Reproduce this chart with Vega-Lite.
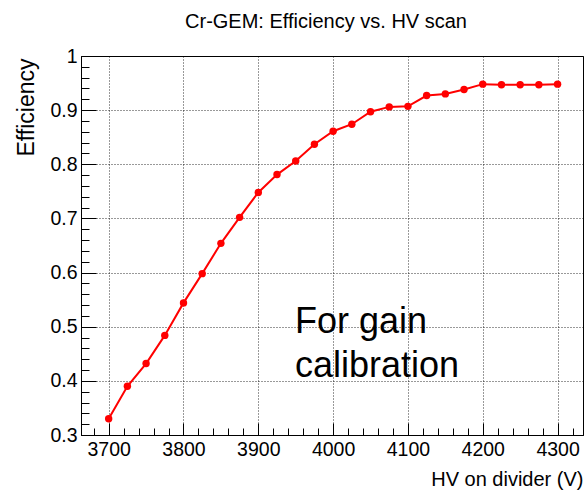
{
  "$schema": "https://vega.github.io/schema/vega-lite/v6.json",
  "width": 502,
  "height": 379,
  "autosize": "none",
  "padding": {"left": 81, "top": 56, "right": 3, "bottom": 57},
  "background": "white",
  "config": {
    "font": "Liberation Sans",
    "view": {"stroke": "black", "strokeWidth": 1}
  },
  "title": {
    "text": "Cr-GEM: Efficiency vs. HV scan",
    "fontSize": 20,
    "fontWeight": "normal",
    "font": "Liberation Sans",
    "color": "black",
    "anchor": "middle",
    "dx": -6,
    "dy": 29,
    "baseline": "bottom",
    "offset": 23
  },
  "datasets": {
    "scan": [
      {"hv": 3700, "eff": 0.330},
      {"hv": 3725, "eff": 0.390},
      {"hv": 3750, "eff": 0.432},
      {"hv": 3775, "eff": 0.484},
      {"hv": 3800, "eff": 0.544},
      {"hv": 3825, "eff": 0.598},
      {"hv": 3850, "eff": 0.654},
      {"hv": 3875, "eff": 0.702},
      {"hv": 3900, "eff": 0.748},
      {"hv": 3925, "eff": 0.781},
      {"hv": 3950, "eff": 0.806},
      {"hv": 3975, "eff": 0.837},
      {"hv": 4000, "eff": 0.861},
      {"hv": 4025, "eff": 0.874},
      {"hv": 4050, "eff": 0.897},
      {"hv": 4075, "eff": 0.906},
      {"hv": 4100, "eff": 0.907},
      {"hv": 4125, "eff": 0.927},
      {"hv": 4150, "eff": 0.930},
      {"hv": 4175, "eff": 0.938},
      {"hv": 4200, "eff": 0.948},
      {"hv": 4225, "eff": 0.947},
      {"hv": 4250, "eff": 0.947},
      {"hv": 4275, "eff": 0.947},
      {"hv": 4300, "eff": 0.948}
    ],
    "note": [
      {"hv": 3949, "eff": 0.488, "label": "For gain calibration"}
    ]
  },
  "encoding": {
    "x": {
      "field": "hv",
      "type": "quantitative",
      "scale": {"domain": [3663, 4334], "nice": false, "zero": false},
      "axis": {
        "title": "HV on divider (V)",
        "titleFontSize": 20,
        "titleFontWeight": "normal",
        "titleColor": "black",
        "titleX": 502,
        "titleAlign": "right",
        "titleY": 50,
        "titleBaseline": "alphabetic",
        "values": [3680, 3700, 3720, 3740, 3760, 3780, 3800, 3820, 3840, 3860, 3880, 3900, 3920, 3940, 3960, 3980, 4000, 4020, 4040, 4060, 4080, 4100, 4120, 4140, 4160, 4180, 4200, 4220, 4240, 4260, 4280, 4300, 4320],
        "labelExpr": "datum.value % 100 == 0 ? format(datum.value, 'd') : ''",
        "labelFontSize": 19.5,
        "labelColor": "black",
        "labelPadding": 17,
        "labelOverlap": false,
        "labelFlush": false,
        "tickColor": "black",
        "tickSize": {"condition": {"test": "datum.value % 100 == 0", "value": -12}, "value": -7},
        "domainColor": "black",
        "grid": true,
        "gridColor": "black",
        "gridDash": [1, 2],
        "gridOpacity": {"condition": {"test": "datum.value % 100 == 0", "value": 0.8}, "value": 0}
      }
    },
    "y": {
      "field": "eff",
      "type": "quantitative",
      "scale": {"domain": [0.3, 1], "nice": false, "zero": false},
      "axis": {
        "title": "Efficiency",
        "titleFontSize": 23,
        "titleFontWeight": "normal",
        "titleColor": "black",
        "titleAngle": -90,
        "titleX": -48,
        "titleY": 2,
        "titleAlign": "right",
        "titleBaseline": "alphabetic",
        "values": [0.3, 0.32, 0.34, 0.36, 0.38, 0.4, 0.42, 0.44, 0.46, 0.48, 0.5, 0.52, 0.54, 0.56, 0.58, 0.6, 0.62, 0.64, 0.66, 0.68, 0.7, 0.72, 0.74, 0.76, 0.78, 0.8, 0.82, 0.84, 0.86, 0.88, 0.9, 0.92, 0.94, 0.96, 0.98, 1.0],
        "labelExpr": "abs(datum.value * 10 - round(datum.value * 10)) < 0.001 ? format(datum.value, '~g') : ''",
        "labelFontSize": 19.5,
        "labelColor": "black",
        "labelPadding": 19,
        "labelOverlap": false,
        "labelFlush": false,
        "tickColor": "black",
        "tickSize": {"condition": {"test": "abs(datum.value * 10 - round(datum.value * 10)) < 0.001", "value": -15}, "value": -8},
        "domainColor": "black",
        "grid": true,
        "gridColor": "black",
        "gridDash": [1, 2],
        "gridOpacity": {"condition": {"test": "abs(datum.value * 10 - round(datum.value * 10)) < 0.001", "value": 0.8}, "value": 0}
      }
    }
  },
  "layer": [
    {
      "data": {"name": "scan"},
      "mark": {"type": "line", "color": "#ff0000", "strokeWidth": 2}
    },
    {
      "data": {"name": "scan"},
      "mark": {"type": "circle", "color": "#ff0000", "opacity": 1, "size": 55}
    },
    {
      "data": {"name": "note"},
      "mark": {
        "type": "text",
        "text": ["For gain", "calibration"],
        "fontSize": 36,
        "font": "Liberation Sans",
        "color": "black",
        "align": "left",
        "baseline": "alphabetic",
        "lineHeight": 44
      }
    }
  ]
}
